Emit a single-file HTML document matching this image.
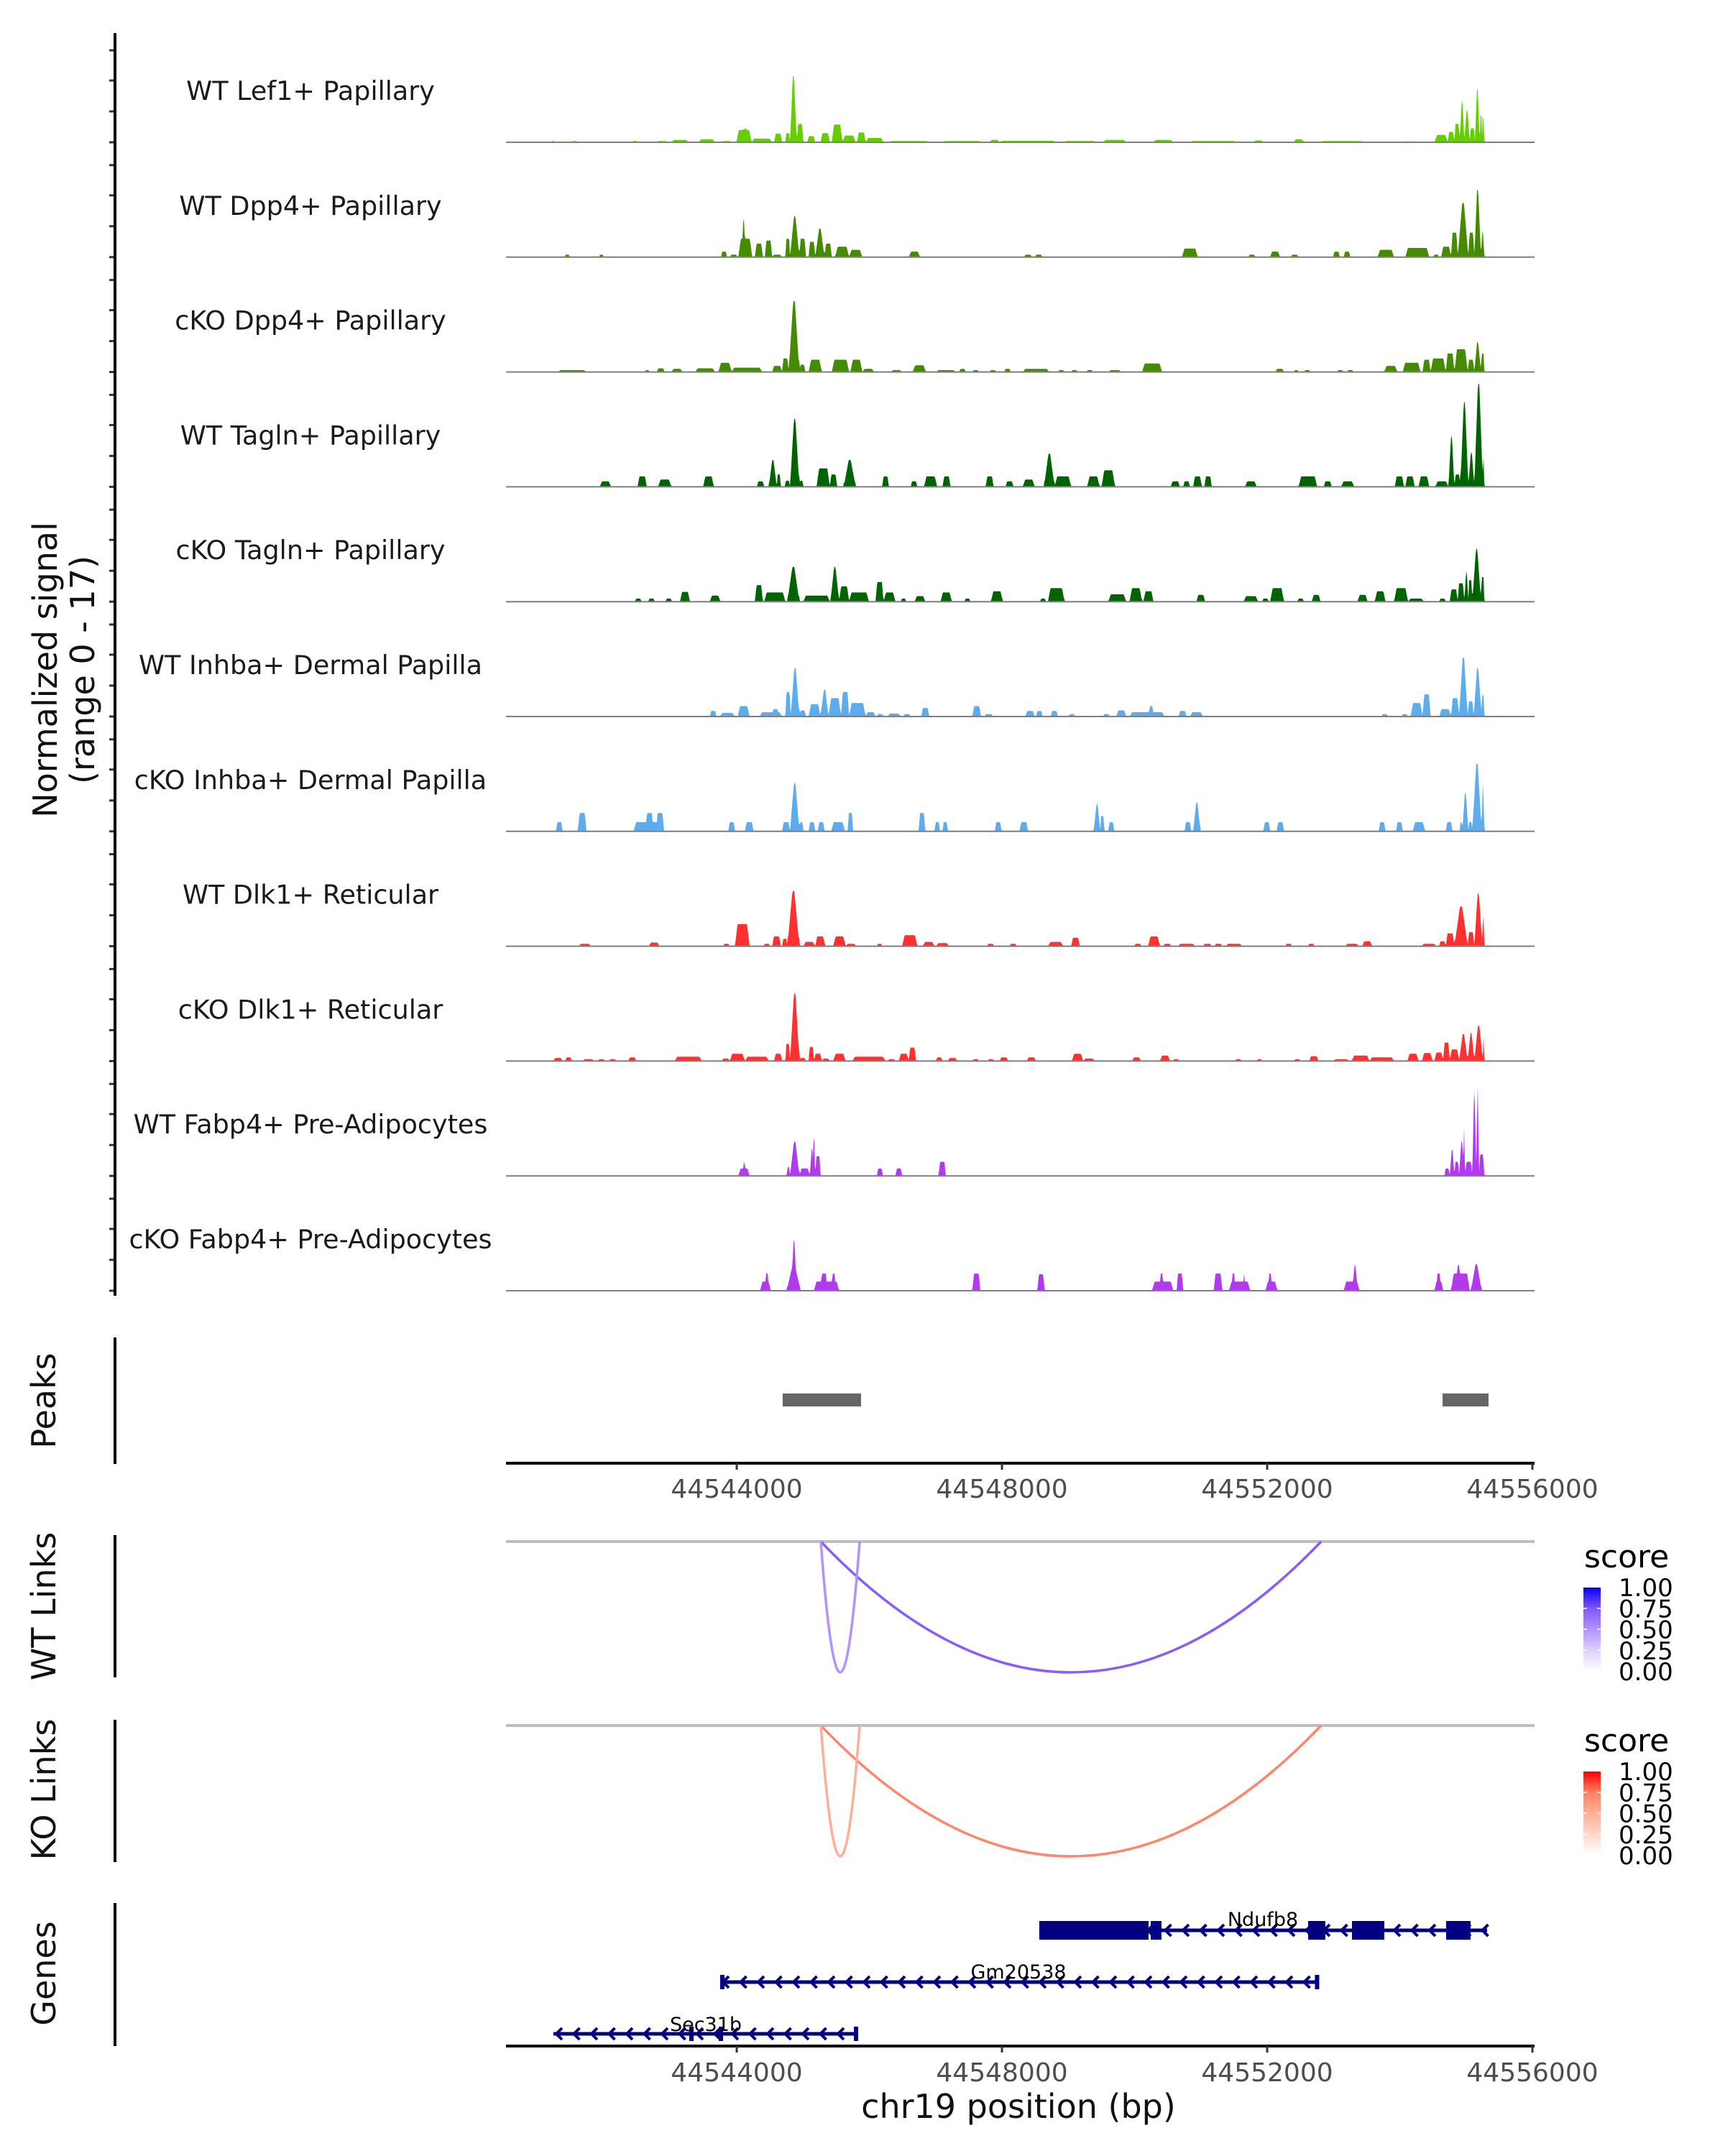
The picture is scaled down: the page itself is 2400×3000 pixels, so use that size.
<!DOCTYPE html>
<html><head><meta charset="utf-8"><title>chr19 coverage plot</title>
<style>
html,body{margin:0;padding:0;background:#fff}
svg{display:block;font-family:"DejaVu Sans","Liberation Sans",sans-serif}
</style></head>
<body>
<svg id="chart" xmlns="http://www.w3.org/2000/svg" width="2400" height="3000" viewBox="0 0 2400 3000">
<rect x="0" y="0" width="2400" height="3000" fill="#fff"/>
<g id="tracks"></g>
<g id="yaxes"></g>
<g id="peaks"></g>
<g id="links"></g>
<g id="genes"></g>
<g id="xaxes"></g>
<g id="legends"></g>
<text transform="translate(79,932) rotate(-90)" text-anchor="middle" font-size="46" fill="#111">Normalized signal</text>
<text transform="translate(131,932) rotate(-90)" text-anchor="middle" font-size="46" fill="#111">(range 0 - 17)</text>
<text transform="translate(77,1949) rotate(-90)" text-anchor="middle" font-size="46" fill="#111">Peaks</text>
<text transform="translate(77,2235) rotate(-90)" text-anchor="middle" font-size="46" fill="#111">WT Links</text>
<text transform="translate(77,2490) rotate(-90)" text-anchor="middle" font-size="46" fill="#111">KO Links</text>
<text transform="translate(77,2746) rotate(-90)" text-anchor="middle" font-size="46" fill="#111">Genes</text>
<text x="1417" y="2947" text-anchor="middle" font-size="46" fill="#111">chr19 position (bp)</text>
</svg>
<script>
// ---------- data ----------
const regionStart = 44540520;
const regionEnd = 44556030;
const xTicks = [44544000, 44548000, 44552000, 44556000];
const yMax = 17;
const trackNames = ["WT Lef1+ Papillary","WT Dpp4+ Papillary","cKO Dpp4+ Papillary","WT Tagln+ Papillary","cKO Tagln+ Papillary","WT Inhba+ Dermal Papilla","cKO Inhba+ Dermal Papilla","WT Dlk1+ Reticular","cKO Dlk1+ Reticular","WT Fabp4+ Pre-Adipocytes","cKO Fabp4+ Pre-Adipocytes"];
const trackColors = ["#66cd00","#458b00","#458b00","#006400","#006400","#5cacee","#5cacee","#ff3030","#ff3030","#b23aee","#b23aee"];
// signal segments: [start offset bp, end offset bp, value]
const sigWTLef1 = [[760,810,0.2],[1060,1160,0.2],[1970,2070,0.2],[2340,2520,0.2],[2570,2830,0.4],[2980,3230,0.5],[3330,3480,0.2],[3550,3780,2.0],[3650,3710,2.2],[3780,4090,0.6],[4120,4240,1.4],[4290,4360,1.5],[4360,4460,10.9],[4460,4560,3],[4620,4740,1],[4820,4960,1.5],[4990,5150,2.9],[5150,5350,1.1],[5370,5500,1.6],[5500,5770,0.7],[5850,6460,0.2],[6660,7260,0.2],[7370,7520,0.4],[7520,8370,0.25],[8480,8980,0.2],[9080,9430,0.4],[9840,10140,0.4],[10390,11100,0.2],[11350,11500,0.3],[11960,12110,0.5],[12360,13020,0.2],[13570,13820,0.15],[14080,14280,1.2],[14280,14380,1.7],[14380,14460,3],[14460,14530,6.9],[14530,14610,5.4],[14610,14690,2.3],[14690,14760,8.8],[14760,14800,5],[14800,14830,4]];
const sigWTDpp4 = [[960,1040,0.4],[1480,1550,0.4],[3320,3410,0.9],[3450,3570,0.4],[3580,3790,3],[3630,3690,6.2],[3830,3950,2.2],[3980,4090,2.7],[4090,4240,0.4],[4290,4360,3],[4360,4500,6.7],[4500,4600,3],[4640,4740,2.5],[4740,4880,4.7],[4880,4990,2.2],[5040,5250,1.7],[5250,5450,1.2],[6150,6320,0.9],[7890,8010,0.4],[8050,8170,0.4],[10270,10510,1.4],[11270,11380,0.4],[11600,11750,0.9],[11910,12030,0.4],[12550,12650,0.9],[12710,12810,0.9],[13220,13470,1.2],[13640,14000,1.5],[14060,14150,0.4],[14180,14330,1.7],[14330,14430,4],[14430,14590,8.9],[14590,14680,4],[14680,14780,11.1],[14780,14830,4.4]];
const sigCKODpp4 = [[860,1290,0.3],[2170,2240,0.3],[2350,2470,0.6],[2570,2740,0.5],[2930,3230,0.6],[3280,3480,1.5],[3480,3940,0.7],[4090,4240,1],[4240,4340,2.2],[4340,4500,11.6],[4500,4590,1.2],[4640,4840,2],[4990,5250,2],[5270,5450,2],[5450,5630,0.5],[5880,6050,0.3],[6210,6410,1.1],[6560,6860,0.3],[6910,7010,0.5],[7110,7210,0.3],[7370,7470,0.3],[7590,7690,0.5],[7870,8270,0.5],[8400,8500,0.3],[8600,8700,0.3],[8830,8930,0.3],[9160,9360,0.3],[9670,9970,1.4],[11680,11810,0.5],[11960,12030,0.3],[12110,12210,0.3],[12610,12710,0.3],[12760,12860,0.3],[13320,13520,1],[13600,13870,1.5],[13900,14020,2],[14020,14250,2.2],[14250,14380,3],[14380,14580,3.7],[14580,14680,2],[14680,14780,4.9],[14780,14830,3]];
const sigWTTagln = [[1490,1660,0.9],[2060,2200,1.7],[2370,2570,1.2],[3050,3210,1.7],[3860,3970,0.9],[4040,4160,4.4],[4160,4220,2],[4280,4360,1],[4360,4500,11.1],[4500,4560,1],[4760,4960,3],[4960,5070,2],[5170,5350,4.4],[5750,5850,1.7],[6180,6280,0.9],[6380,6580,1.7],[6660,6780,1.7],[7310,7430,1.7],[7610,7730,0.9],[7870,8050,1.2],[8190,8350,5.4],[8350,8600,1.7],[8840,9030,1.7],[9060,9260,2.7],[10100,10240,0.9],[10290,10390,0.9],[10440,10570,1.7],[10610,10720,1.7],[11220,11400,0.9],[12030,12310,1.7],[12410,12530,0.9],[12670,12870,0.9],[13480,13620,1.7],[13640,13780,1.7],[13840,14000,1.7],[14090,14290,0.9],[14290,14380,8.2],[14380,14470,2],[14470,14590,13.8],[14590,14680,5.7],[14680,14810,16.8],[14810,14830,5]];
const sigCKOTagln = [[2020,2120,0.5],[2220,2320,0.5],[2480,2580,0.5],[2700,2850,1.6],[3150,3310,1],[3830,3950,2.7],[3970,4290,1.5],[4320,4500,5.7],[4560,4960,1],[4970,5100,5.7],[5100,5250,2.5],[5250,5550,1.5],[5650,5770,3.2],[5770,5950,1.5],[6030,6110,0.5],[6240,6400,0.9],[6630,6800,1.5],[6990,7080,0.5],[7390,7570,1.7],[8130,8220,0.5],[8250,8500,2.2],[9160,9430,1.2],[9480,9670,2.2],[9690,9840,1.7],[10490,10620,1.1],[11200,11420,0.9],[11480,11580,0.5],[11600,11810,2.2],[12010,12110,0.5],[12230,12360,1.1],[12920,13070,1.1],[13180,13340,1.7],[13470,13680,2.2],[13680,13920,0.5],[14150,14250,0.5],[14310,14430,2],[14430,14530,3],[14530,14590,5],[14590,14650,3.5],[14650,14780,8.6],[14780,14830,4]];
const sigWTInhba = [[3150,3250,0.9],[3300,3530,0.6],[3570,3750,1.7],[3900,4240,0.7],[4090,4190,1.2],[4290,4370,4],[4370,4500,7.9],[4500,4600,1],[4640,4820,2],[4820,4940,4.4],[4940,5130,3],[5130,5250,4],[5250,5500,2.2],[5500,5650,0.7],[5670,5770,0.4],[5830,6030,0.5],[6070,6180,0.4],[6340,6460,1.4],[7110,7240,1.7],[7290,7420,0.4],[7910,8050,0.9],[8070,8170,0.9],[8290,8400,0.9],[8560,8660,0.4],[9080,9180,0.4],[9280,9430,1],[9480,10010,0.7],[9770,9840,1.7],[10220,10340,0.9],[10390,10590,0.7],[13280,13380,0.4],[13580,13680,0.4],[13720,13900,2.2],[13900,14020,3.6],[14150,14330,1.2],[14330,14450,3],[14450,14580,9.6],[14580,14670,2.5],[14670,14790,7.9],[14790,14830,3.5]];
const sigCKOInhba = [[830,930,1.5],[1160,1290,3],[2000,2460,1.5],[2180,2300,3],[2340,2460,3],[3430,3530,1.5],[3680,3810,1.5],[4240,4360,1.5],[4360,4500,7.9],[4500,4560,1.5],[4640,4740,1.5],[4780,4880,1.5],[4980,5190,1.5],[5230,5310,3],[6300,6400,3],[6540,6620,1.5],[6660,6740,1.5],[7450,7550,1.5],[7820,7950,1.5],[8940,9040,4.5],[9040,9100,2.5],[9160,9250,1.5],[10310,10410,1.5],[10440,10550,4.7],[11500,11600,1.5],[11700,11810,1.5],[13240,13340,1.5],[13500,13600,1.5],[13750,13940,1.5],[14250,14350,1.5],[14460,14500,1.5],[14500,14590,6.3],[14590,14650,1.5],[14650,14790,11],[14790,14830,7.9]];
const sigWTDlk1 = [[1170,1360,0.4],[2230,2390,0.6],[3350,3450,0.4],[3530,3750,3.6],[3960,4060,0.4],[4090,4220,1.6],[4240,4320,1.2],[4320,4500,9],[4560,4740,0.7],[4740,4890,1.6],[5010,5200,1.6],[5200,5360,0.4],[5670,5750,0.4],[6050,6280,1.8],[6360,6540,0.7],[6560,6760,0.5],[7330,7440,0.4],[7670,7780,0.4],[8250,8480,0.7],[8600,8730,1.4],[9550,9660,0.4],[9760,9940,1.6],[9990,10110,0.4],[10210,10470,0.4],[10590,10720,0.4],[10760,10880,0.4],[10930,11180,0.4],[11830,11930,0.4],[12170,12270,0.4],[12730,12940,0.4],[12990,13140,0.8],[13880,14110,0.4],[14150,14250,0.8],[14250,14380,2.1],[14380,14580,6.5],[14580,14680,2.3],[14680,14800,8.6],[14800,14830,5.5]];
const sigCKODlk1 = [[790,930,0.5],[970,1070,0.6],[1230,1410,0.3],[1460,1570,0.3],[1630,1740,0.3],[1920,2040,0.6],[2620,3030,0.7],[3330,3450,0.4],[3450,3680,1.2],[3680,4040,0.7],[4120,4240,1.2],[4290,4360,2.8],[4360,4500,11.1],[4500,4600,0.5],[4640,4720,2.3],[4720,4840,1.2],[4840,4960,0.4],[5010,5200,1.2],[5300,5800,0.7],[5830,5950,0.3],[6000,6150,1.2],[6150,6260,2.2],[6560,6660,0.6],[6740,6880,0.5],[7110,7210,0.3],[7340,7440,0.3],[7520,7650,0.6],[7930,8070,0.6],[8610,8780,1.2],[8780,8960,0.4],[9520,9650,0.6],[9940,10090,0.9],[10130,10230,0.3],[11070,11170,0.3],[11400,11480,0.3],[11960,12060,0.3],[12190,12330,0.8],[12550,12790,0.3],[12830,13100,0.9],[13100,13470,0.6],[13670,13840,1.2],[13890,14050,1.3],[14080,14210,1.4],[14210,14310,3],[14310,14450,1.9],[14450,14580,4.4],[14580,14680,4.6],[14680,14810,5.8],[14810,14830,4]];
const sigWTFabp4 = [[3580,3750,1.2],[3650,3680,2.3],[4310,4360,1.4],[4360,4500,5.6],[4500,4660,1.2],[4660,4720,4.5],[4700,4740,6.7],[4740,4820,3.2],[5670,5760,1.2],[5950,6050,1.2],[6600,6710,2.3],[14230,14310,1.2],[14310,14380,4.4],[14380,14450,2.3],[14450,14530,5.6],[14510,14540,7.9],[14540,14650,2.3],[14650,14710,13.7],[14710,14750,14.7],[14750,14830,3.5]];
const sigCKOFabp4 = [[3910,4070,1.5],[3990,4030,2.8],[4310,4520,4.2],[4380,4460,8.3],[4720,5100,1.5],[4820,4920,2.8],[4990,5040,2.8],[7110,7230,2.8],[8090,8200,2.7],[9820,10140,1.5],[9940,9990,2.8],[10190,10290,2.8],[10750,10880,2.8],[10980,11300,1.5],[11020,11070,2.8],[11200,11220,2.8],[11530,11710,1.5],[11580,11620,2.8],[12710,12950,1.5],[12840,12920,4.3],[14080,14210,1.5],[14110,14170,2.8],[14330,14610,2.8],[14390,14490,4.3],[14630,14790,4.3]];
const trackSignals = [sigWTLef1,sigWTDpp4,sigCKODpp4,sigWTTagln,sigCKOTagln,sigWTInhba,sigCKOInhba,sigWTDlk1,sigCKODlk1,sigWTFabp4,sigCKOFabp4];
const signalOffsetBase = 44540444;
// peaks [start, end]
const peakRegions = [[44544693,44545875],[44554645,44555338]];
// links [start, end, score]
const wtLinks = [[44545268,44552813,0.72],[44545268,44545853,0.5]];
const koLinks = [[44545268,44552813,0.72],[44545268,44545853,0.5]];
const legendTicks = ["1.00","0.75","0.50","0.25","0.00"];
// genes
const geneNames = ["Ndufb8","Gm20538","Sec31b"];
const geneSpans = [[44548563,44555317],[44543750,44552769],[44541235,44545810]];
const geneExons = [
  [[44548563,44550211],[44550244,44550406],[44552618,44552878],[44553279,44553767],[44554699,44555068]],
  [[44543750,44543800],[44552720,44552769]],
  [[44543284,44543350],[44543728,44543794],[44545767,44545832]]
];
const geneExonHeight = [26,20,20];

// ---------- layout ----------
const NS = "http://www.w3.org/2000/svg";
const X0 = 704, X1 = 2135, PXPERBP = 0.09225;
function xs(bp){ return X0 + (bp - regionStart) * PXPERBP; }
const base0 = 198, trackStep = 159.8, trackH = 145;
function ys(v, b){ return b - v / yMax * trackH; }
function mk(tag, attrs, parent){ const e = document.createElementNS(NS, tag); for (const k in attrs) e.setAttribute(k, attrs[k]); parent.appendChild(e); return e; }

// ---------- signal tracks ----------
const gT = document.getElementById('tracks');
const gY = document.getElementById('yaxes');
trackNames.forEach((name, i) => {
  const b = base0 + i * trackStep;
  const g = mk('g', {}, gT);
  
  
  const lab = mk('text', {x: 432, y: b - 59, 'text-anchor': 'middle', 'font-size': 36.5, fill: '#1a1a1a'}, g);
  lab.textContent = name;
  
  
  const W = Math.ceil(X1 - X0) + 2;
  const h = new Float32Array(W);
  trackSignals[i].forEach(seg => {
    const s = xs(signalOffsetBase + seg[0]), e = xs(signalOffsetBase + seg[1]), v = seg[2];
    const w = e - s;
    const ramp = v > 4 ? w * 0.42 : Math.min(w * 0.2, 3.5);
    for (let px = Math.floor(s); px <= Math.ceil(e); px++) {
      let f;
      if (px < s || px > e) continue;
      if (px < s + ramp) f = (px - s) / ramp; else if (px > e - ramp) f = (e - px) / ramp; else f = 1;
      const val = v * Math.max(0.15, f);
      const idx = px - X0;
      if (idx >= 0 && idx < W && val > h[idx]) h[idx] = val;
    }
  });
  let d = 'M' + X0 + ',' + b;
  for (let k = 0; k < W; k++) { d += 'L' + (X0 + k) + ',' + ys(h[k], b).toFixed(1); }
  d += 'L' + (X0 + W - 1) + ',' + b + 'Z';
  const area = mk('path', {d: d, fill: trackColors[i], stroke: 'none'}, g);
  
  
  const bl = mk('line', {x1: X0, x2: X1, y1: b, y2: b, stroke: '#7f7f7f', 'stroke-width': 2}, g);
  
  
  [0, 43, 86, 128].forEach(o => {
    const t = mk('line', {x1: 152, x2: 160, y1: b - o, y2: b - o, stroke: '#333', 'stroke-width': 3}, gY);
    
    
  });
});
[[46,1803,'signal-y-axis'],[1861,2037,'peaks-y-axis'],[2136,2334,'wt-links-y-axis'],[2393,2591,'ko-links-y-axis'],[2648,2847,'genes-y-axis']].forEach(a => {
  const l = mk('line', {x1: 160, x2: 160, y1: a[0], y2: a[1], stroke: '#000', 'stroke-width': 4}, gY);
  
  
});

// ---------- peaks ----------
const gP = document.getElementById('peaks');
peakRegions.forEach(p => {
  const r = mk('rect', {x: xs(p[0]), y: 1939, width: xs(p[1]) - xs(p[0]), height: 18, fill: '#666666'}, gP);
  
  
});

// ---------- x axes ----------
const gX = document.getElementById('xaxes');
[[2036, 2084, 'peaks-x-axis'], [2847, 2896, 'genes-x-axis']].forEach(ax => {
  const l = mk('line', {x1: X0, x2: X1, y1: ax[0], y2: ax[0], stroke: '#000', 'stroke-width': 4}, gX);
  
  
  xTicks.forEach(t => {
    const tk = mk('line', {x1: xs(t), x2: xs(t), y1: ax[0], y2: ax[0] + 9, stroke: '#333', 'stroke-width': 3}, gX);
    
    
    const tl = mk('text', {x: xs(t), y: ax[1], 'text-anchor': 'middle', 'font-size': 36, fill: '#4d4d4d'}, gX);
    tl.textContent = t;
    
    
  });
});

// ---------- links ----------
const wtStops = [[0,[255,255,255]],[0.25,[220,207,255]],[0.5,[178,146,255]],[0.75,[130,87,251]],[1,[0,0,255]]];
const koStops = [[0,[255,255,255]],[0.25,[255,215,203]],[0.5,[255,174,151]],[0.75,[255,129,99]],[1,[255,0,0]]];
function col(stops, s){
  for (let k = 1; k < stops.length; k++) {
    if (s <= stops[k][0]) {
      const a = stops[k-1], c = stops[k], f = (s - a[0]) / (c[0] - a[0]);
      return 'rgb(' + a[1].map((v, j) => Math.round(v + (c[1][j] - v) * f)).join(',') + ')';
    }
  }
  return 'rgb(' + stops[stops.length-1][1].join(',') + ')';
}
const gL = document.getElementById('links');
const defs = mk('defs', {}, gL);
[[wtLinks, wtStops, 2145, 'wt'], [koLinks, koStops, 2401, 'ko']].forEach(set => {
  const top = set[2];
  const gl = mk('line', {x1: X0, x2: X1, y1: top, y2: top, stroke: '#bebebe', 'stroke-width': 4}, gL);
  
  
  set[0].forEach(lk => {
    const a = xs(lk[0]), c = xs(lk[1]), depth = 182;
    const p = mk('path', {d: 'M' + a + ',' + top + ' Q' + ((a + c) / 2) + ',' + (top + 2 * depth) + ' ' + c + ',' + top, fill: 'none', stroke: col(set[1], lk[2]), 'stroke-width': 3.5}, gL);
    
    
  });
  const gLeg = document.getElementById('legends');
  const off = top - 2145;
  const gid = 'grad-' + set[3];
  const gr = mk('linearGradient', {id: gid, x1: 0, y1: 1, x2: 0, y2: 0}, defs);
  set[1].forEach(st => mk('stop', {offset: st[0], 'stop-color': 'rgb(' + st[1].join(',') + ')'}, gr));
  const st = mk('text', {x: 2204, y: 2181 + off, 'font-size': 44, fill: '#000'}, gLeg);
  st.textContent = 'score';
  
  
  const bar = mk('rect', {x: 2203, y: 2209 + off, width: 24, height: 116, fill: 'url(#' + gid + ')'}, gLeg);
  
  
  legendTicks.forEach((t, k) => {
    const ty = 2209 + off + k * 29;
    if (k > 0 && k < 4) {
      const m = mk('line', {x1: 2203, x2: 2208, y1: ty, y2: ty, stroke: '#fff', 'stroke-width': 1.5}, gLeg);
      
      
      const m2 = mk('line', {x1: 2222, x2: 2227, y1: ty, y2: ty, stroke: '#fff', 'stroke-width': 1.5}, gLeg);
      
      
    }
    const tl = mk('text', {x: 2252, y: 2221 + off + k * 29.3, 'font-size': 34, fill: '#000'}, gLeg);
    tl.textContent = t;
    
    
  });
});

// ---------- genes ----------
const gG = document.getElementById('genes');
const geneY = [2686, 2758, 2830];
const navy = '#000080';
geneNames.forEach((gn, i) => {
  const y = geneY[i];
  const g = mk('g', {}, gG);
  
  
  const a = xs(geneSpans[i][0]), c = xs(geneSpans[i][1]);
  const ln = mk('line', {x1: a, x2: c, y1: y, y2: y, stroke: navy, 'stroke-width': 5}, g);
  
  
  let d = '';
  for (let x = a + 4; x < c - 4; x += 24.5) { d += 'M' + (x + 8) + ',' + (y - 8) + 'L' + x + ',' + y + 'L' + (x + 8) + ',' + (y + 8); }
  const ch = mk('path', {d: d, fill: 'none', stroke: navy, 'stroke-width': 4}, g);
  
  
  geneExons[i].forEach(ex => {
    const eh = geneExonHeight[i];
    const r = mk('rect', {x: xs(ex[0]), y: y - eh / 2, width: Math.max(6, xs(ex[1]) - xs(ex[0])), height: eh, fill: navy}, g);
    
    
  });
});
const geneLabelPos = [[1757, 2680], [1417, 2753], [982, 2826]];
geneNames.forEach((gn, i) => {
  const t = mk('text', {x: geneLabelPos[i][0], y: geneLabelPos[i][1], 'text-anchor': 'middle', 'font-size': 27, fill: '#000'}, gG);
  t.textContent = gn;
  
  
});
</script>
</body></html>
